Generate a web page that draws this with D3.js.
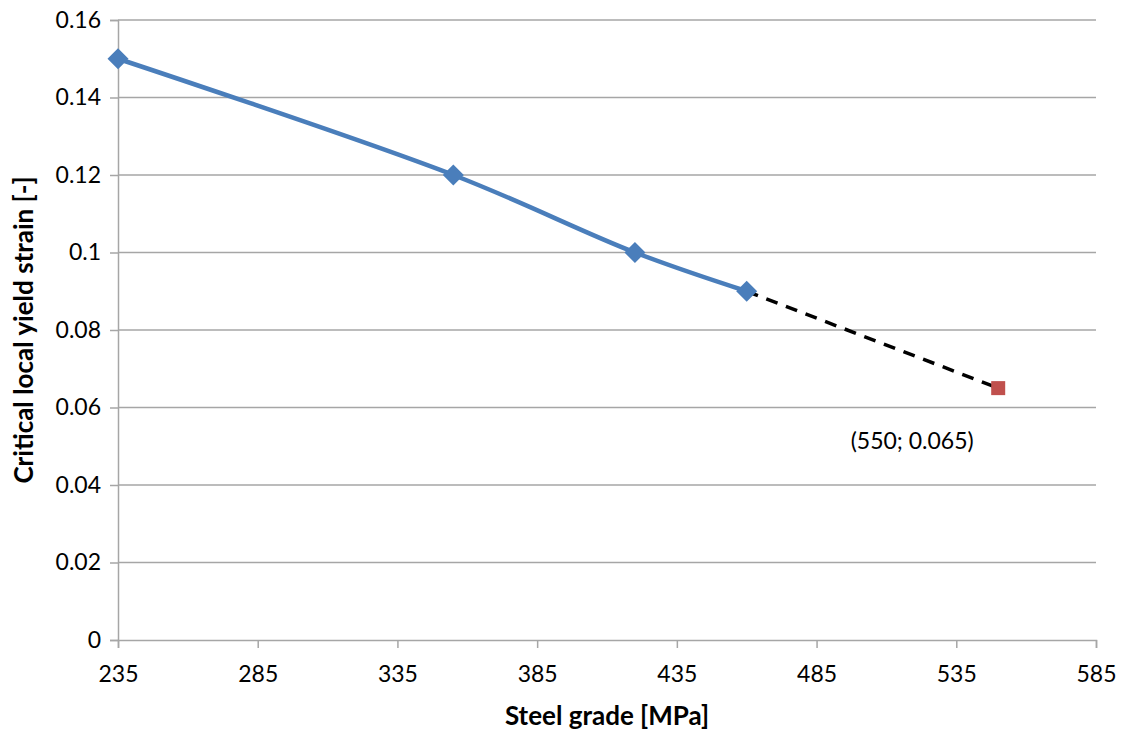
<!DOCTYPE html>
<html><head><meta charset="utf-8">
<script src="https://cdn.jsdelivr.net/npm/d3@7"></script>
<style>body{margin:0;background:#fff}svg{display:block}text{font-family:Lato,"Open Sans",sans-serif}</style>
</head><body><svg width="1131" height="731"></svg>
<script>
const grades=[235,355,420,460];
const strains=[0.15,0.12,0.10,0.09];
const extGrades=[460,550];
const extStrains=[0.09,0.065];
const pointLabel="(550; 0.065)";
const xTicks=[235,285,335,385,435,485,535,585];
const yTicks=[0,0.02,0.04,0.06,0.08,0.1,0.12,0.14,0.16];
const xTitle="Steel grade [MPa]";
const yTitle="Critical local yield strain [-]";

const svg=d3.select("svg");
const x=d3.scaleLinear().domain([235,585]).range([118,1096]);
const y=d3.scaleLinear().domain([0,0.16]).range([640,20]);
const grid="#a6a6a6";
svg.append("g").selectAll("line").data(yTicks.filter(d=>d>0)).join("line")
 .attr("x1",x(235)).attr("x2",x(585)).attr("y1",d=>y(d)).attr("y2",d=>y(d))
 .attr("stroke",grid).attr("stroke-width",1.5);
const xa=svg.append("g").attr("transform",`translate(0,${y(0)})`)
 .call(d3.axisBottom(x).tickValues(xTicks).tickSize(8).tickPadding(18).tickFormat(d3.format("d")));
const ya=svg.append("g").attr("transform",`translate(${x(235)},0)`)
 .call(d3.axisLeft(y).tickValues(yTicks).tickSize(8).tickPadding(9).tickFormat(d=>d===0?"0":String(+d.toFixed(2))));
[xa,ya].forEach(a=>{a.selectAll("path,line").attr("stroke",grid).attr("stroke-width",1.5);
 a.selectAll("text").attr("fill","#000").style("font-size","23px");});
svg.append("path").datum(grades.map((g,i)=>[g,strains[i]]))
 .attr("d",d3.line().x(d=>x(d[0])).y(d=>y(d[1])).curve(d3.curveCatmullRom))
 .attr("fill","none").attr("stroke","#4a7ebb").attr("stroke-width",4.5);
svg.append("path").datum(extGrades.map((g,i)=>[g,extStrains[i]]))
 .attr("d",d3.line().x(d=>x(d[0])).y(d=>y(d[1])))
 .attr("fill","none").attr("stroke","#000").attr("stroke-width",3.5).attr("stroke-dasharray","12,9");
svg.append("g").selectAll("path").data(grades.map((g,i)=>[g,strains[i]])).join("path")
 .attr("d","M0,-10.5L10.5,0L0,10.5L-10.5,0Z")
 .attr("transform",d=>`translate(${x(d[0])},${y(d[1])})`).attr("fill","#4a7ebb");
svg.append("rect").attr("x",x(550)-7).attr("y",y(0.065)-7).attr("width",14).attr("height",14).attr("fill","#c0504d");
svg.append("text").attr("x",x(550)-86).attr("y",y(0.065)+61).attr("text-anchor","middle").style("font-size","23px").text(pointLabel);
svg.append("text").attr("x",(x(235)+x(585))/2).attr("y",725).attr("text-anchor","middle").style("font-size","26px").style("font-weight","bold").text(xTitle);
svg.append("text").attr("transform",`translate(33,${y(0.08)}) rotate(-90)`).attr("text-anchor","middle").style("font-size","26px").style("font-weight","bold").text(yTitle);
</script></body></html>
